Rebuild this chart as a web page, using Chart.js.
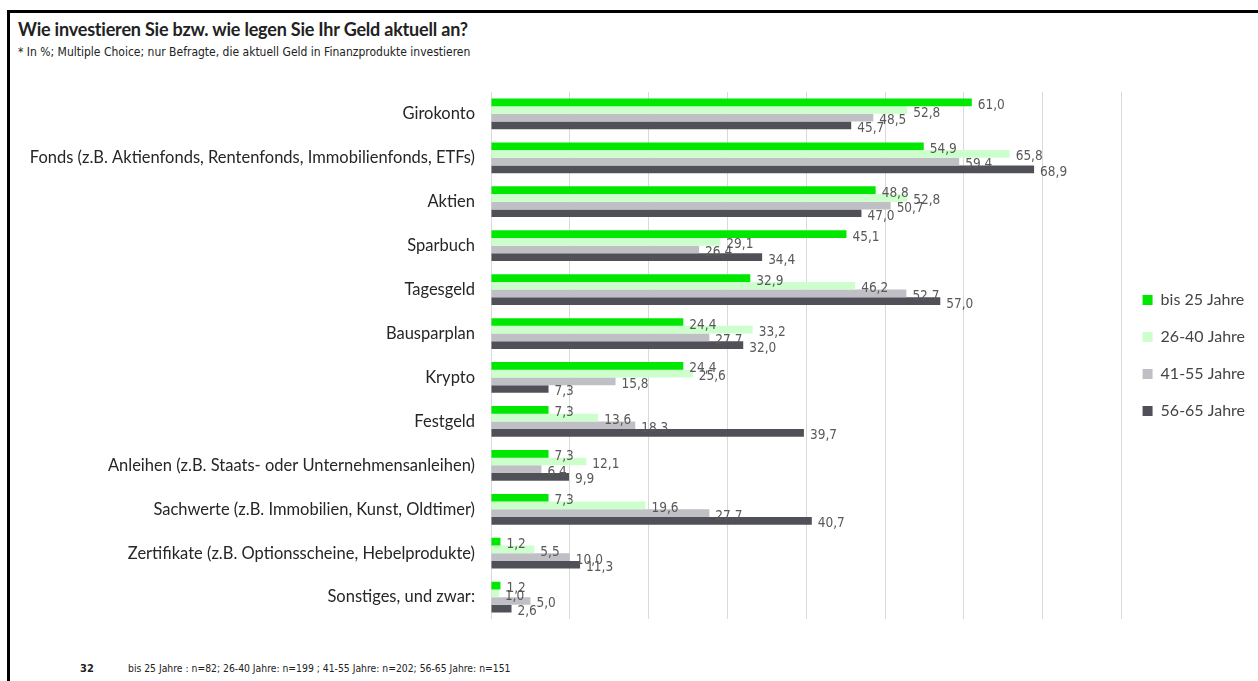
<!DOCTYPE html>
<html lang="de">
<head>
<meta charset="utf-8">
<title>Geldanlage nach Alter</title>
<script src="https://cdn.jsdelivr.net/npm/chart.js@4.4.1/dist/chart.umd.min.js"></script>
<style>
  html, body { margin:0; padding:0; background:#fff; }
  body { width:1258px; height:681px; position:relative; overflow:hidden; font-family:Lato, "Noto Sans", sans-serif; }
  #frame { position:absolute; left:7px; top:10px; width:1300px; height:700px; border-top:3px solid #000; border-left:3px solid #000; }
  #title { position:absolute; left:18px; top:18px; font-size:18px; font-weight:bold; color:#222; letter-spacing:-0.2px; }
  #subtitle { position:absolute; left:18px; top:45px; font-family:"DejaVu Sans Condensed", sans-serif; font-size:12px; color:#222; }
  #footer { position:absolute; left:80px; top:662px; font-family:"DejaVu Sans Condensed", sans-serif; font-size:10.3px; color:#222; }
  #footer b { display:inline-block; width:48px; font-size:11px; }
  #wrap { position:absolute; left:0; top:66px; width:1258px; height:579px; }
</style>
</head>
<body>
<div id="frame"></div>
<div id="title">Wie investieren Sie bzw. wie legen Sie Ihr Geld aktuell an?</div>
<div id="subtitle">* In %; Multiple Choice; nur Befragte, die aktuell Geld in Finanzprodukte investieren</div>
<div id="wrap"><canvas id="chart"></canvas></div>
<div id="footer"><b>32</b>bis 25 Jahre : n=82; 26-40 Jahre: n=199 ; 41-55 Jahre: n=202; 56-65 Jahre: n=151</div>

<script>
const categories = [
  "Girokonto",
  "Fonds (z.B. Aktienfonds, Rentenfonds, Immobilienfonds, ETFs)",
  "Aktien",
  "Sparbuch",
  "Tagesgeld",
  "Bausparplan",
  "Krypto",
  "Festgeld",
  "Anleihen (z.B. Staats- oder Unternehmensanleihen)",
  "Sachwerte (z.B. Immobilien, Kunst, Oldtimer)",
  "Zertifikate (z.B. Optionsscheine, Hebelprodukte)",
  "Sonstiges, und zwar:"
];

const seriesNames = ["bis 25 Jahre", "26-40 Jahre", "41-55 Jahre", "56-65 Jahre"];

const bis25 = [61.0, 54.9, 48.8, 45.1, 32.9, 24.4, 24.4, 7.3, 7.3, 7.3, 1.2, 1.2];
const j26_40 = [52.8, 65.8, 52.8, 29.1, 46.2, 33.2, 25.6, 13.6, 12.1, 19.6, 5.5, 1.0];
const j41_55 = [48.5, 59.4, 50.7, 26.4, 52.7, 27.7, 15.8, 18.3, 6.4, 27.7, 10.0, 5.0];
const j56_65 = [45.7, 68.9, 47.0, 34.4, 57.0, 32.0, 7.3, 39.7, 9.9, 40.7, 11.3, 2.6];

const colors = ["#00e800", "#ccffcc", "#bfbfc5", "#505058"];

const condensed = '"DejaVu Sans Condensed", sans-serif';

// Werte neben den Balken
const valueLabels = {
  id: "valueLabels",
  afterDatasetsDraw(chart) {
    const ctx = chart.ctx;
    ctx.save();
    ctx.font = "13.5px " + condensed;
    ctx.fillStyle = "#595959";
    ctx.textBaseline = "middle";
    ctx.textAlign = "left";
    chart.data.datasets.forEach((ds, i) => {
      chart.getDatasetMeta(i).data.forEach((bar, j) => {
        let txt = ds.data[j].toFixed(1).replace(".", ",");
        ctx.fillText(txt, bar.x + 6, bar.y + 3);
      });
    });
    ctx.restore();
  }
};

const datasets = [bis25, j26_40, j41_55, j56_65].map((d, i) => ({
  label: seriesNames[i],
  data: d,
  backgroundColor: colors[i],
  categoryPercentage: 0.7,
  barPercentage: 1.0
}));

new Chart(document.getElementById("chart"), {
  type: "bar",
  data: { labels: categories, datasets: datasets },
  options: {
    indexAxis: "y",
    responsive: true,
    maintainAspectRatio: false,
    animation: false,
    layout: { padding: { top: 0, bottom: 0, right: 3 } },
    plugins: {
      tooltip: { enabled: false },
      legend: {
        position: "right",
        align: "center",
        labels: {
          boxWidth: 10,
          boxHeight: 10,
          padding: 21,
          color: "#444",
          font: { family: "Lato", size: 16 }
        }
      }
    },
    scales: {
      x: {
        min: 0,
        max: 80,
        ticks: { display: false, stepSize: 10 },
        grid: { color: "#d9d9d9", drawTicks: false },
        border: { display: false }
      },
      y: {
        grid: { display: false, drawTicks: false },
        border: { display: false },
        ticks: { color: "#262626", padding: 16, font: { family: "Lato", size: 16.5 } },
        afterFit(scale) { scale.width = 491; }
      }
    }
  },
  plugins: [valueLabels]
});
</script>
</body>
</html>
